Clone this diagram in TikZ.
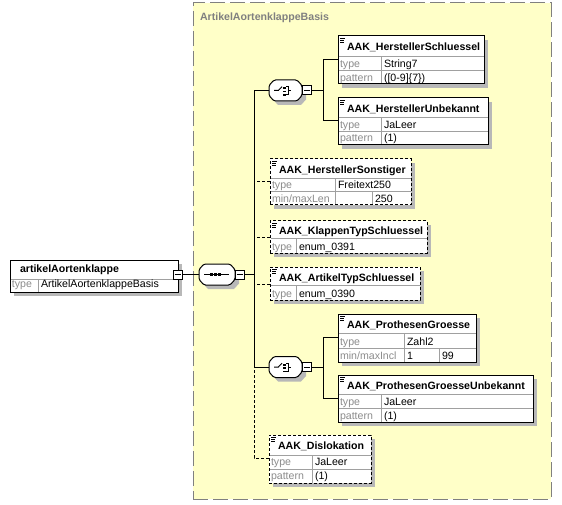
\documentclass[tikz,border=0pt]{standalone}
\usepackage{fontspec}
\setmainfont{Liberation Sans}
\definecolor{grp}{HTML}{FFFFC8}
\definecolor{grpborder}{HTML}{808080}
\definecolor{grpttl}{HTML}{808080}
\definecolor{shc}{HTML}{B8B8B8}
\definecolor{divc}{HTML}{A0A0A0}
\definecolor{lblc}{HTML}{8C8C8C}
\newcommand{\compo}[4]{%
  \begin{scope}[shift={(#2,#3)}]
    \fill[shc] (9,4) -- ({#4-1},4) -- ({#4+4},9.5) -- ({#4+4},19.5) -- ({#4-1},25) -- (9,25) -- (4,19.5) -- (4,9.5) -- cycle;
    \draw[compline] (5,0) -- ({#4-5},0) -- (#4,5.5) -- (#4,15.5) -- ({#4-5},21) -- (5,21) -- (0,15.5) -- (0,5.5) -- cycle;
    \node[anchor=north west, minimum width=#4pt, minimum height=21pt] (#1) at (0,0) {};
  \end{scope}}
\newcommand{\choicesym}[2]{%
  \begin{scope}[shift={(#1,#2)}]
    \draw[line width=1pt] (5,10.5) -- (9.3,10.5) -- (13,6.7);
    \fill (14.2,7.2) rectangle (16.7,9.2);
    \fill (14.2,10.6) rectangle (16.7,12.4);
    \fill (14.2,14) rectangle (16.7,15.8);
    \draw[line width=1pt] (17,7) -- (19,7) -- (19,14.6) -- (17,14.6) (19,10.8) -- (22,10.8);
  \end{scope}}
\newcommand{\docicon}[2]{%
  \draw[line width=0.7pt] ({#1+2},{#2+2.5}) -- ++(5,0) ({#1+2},{#2+4.5}) -- ++(4,0) ({#1+2},{#2+6.5}) -- ++(4,0);}
\begin{document}
\begin{tikzpicture}[x=1pt,y=-1pt,
  every node/.style={inner sep=0pt, outer sep=0pt},
  shadowed/.style={preaction={fill=shc, draw=none, transform canvas={shift={(4pt,-4pt)}}}},
  elbox/.style={draw=black, fill=white, line width=1pt, anchor=north west, shadowed},
  optbox/.style={elbox, dash pattern=on 3pt off 2pt},
  compline/.style={draw=black, fill=white, line width=1pt, rounded corners=1.5pt},
  div/.style={draw=divc, line width=1pt},
  conn/.style={draw=black, line width=1pt},
  optconn/.style={conn, dash pattern=on 3pt off 2pt},
  ttl/.style={anchor=base west, font=\fontsize{10.6}{12}\selectfont\bfseries},
  lbl/.style={anchor=base west, text=lblc, font=\fontsize{10.6}{13}\selectfont},
  val/.style={anchor=base west, font=\fontsize{10.6}{13}\selectfont},
  minusbox/.style={draw=black, fill=white, line width=1pt, minimum size=9pt,
    path picture={\draw[line width=1pt] ([xshift=1.5pt]path picture bounding box.west) -- ([xshift=-1.5pt]path picture bounding box.east);}},
]
\useasboundingbox (0,0) rectangle (562,505);

% group box
\node[draw=grpborder, fill=grp, line width=1pt, dash pattern=on 15pt off 5pt,
  minimum width=358pt, minimum height=496pt, anchor=north west] (grpbox) at (193,3) {};
\node[ttl, text=grpttl] (grpT) at (200,21) {ArtikelAortenklappeBasis};

% outer element
\node[elbox, minimum width=168pt, minimum height=32pt] (outer) at (10,260) {};
\draw[div] (10.5,279) -- (177.5,279);
\draw[div] (38,279) -- (38,291.5);
\node[ttl] (outerT) at (20,272) {artikelAortenklappe};
\node[lbl] (outerL) at (12,287) {type};
\node[val] (outerV) at (41,287) {ArtikelAortenklappeBasis};
\node[minusbox] (m0) at (177.5,274.5) {};

% sequence
\compo{seq}{199}{264}{36}
\draw[line width=1pt] (204,274.5) -- (229,274.5);
\fill (209.8,273) rectangle (212.6,276);
\fill (213.8,273) rectangle (216.6,276);
\fill (217.8,273) rectangle (220.6,276);
\node[minusbox] (m1) at (239.5,274.5) {};
\coordinate (trunk) at (254,274.5);

% choice 1
\compo{c1}{269}{80}{33}
\choicesym{269}{80}
\node[minusbox] (c1m) at (307,90.5) {};
\coordinate (j1) at (323,90.5);

% choice 2
\compo{c2}{269}{356.5}{33}
\choicesym{269}{356.5}
\node[minusbox] (c2m) at (307,367) {};
\coordinate (j2) at (323,367);

% AAK_HerstellerSchluessel
\node[elbox, minimum width=146pt, minimum height=48pt] (hs) at (338,36) {};
\draw[div] (338.5,57) -- (483.5,57) (338.5,71) -- (483.5,71) (381,57) -- (381,83.5);
\docicon{338}{36}
\node[ttl] (hsT) at (347,51) {AAK\_HerstellerSchluessel};
\node[lbl] (hsL1) at (340,68) {type};
\node[val] (hsV1) at (384,68) {String7};
\node[lbl] (hsL2) at (340,81.5) {pattern};
\node[val] (hsV2) at (384,81.5) {([0-9]\{7\})};
\coordinate (hsIn) at (338,60);

% AAK_HerstellerUnbekannt
\node[elbox, minimum width=150pt, minimum height=47pt] (hu) at (338,98) {};
\draw[div] (338.5,118) -- (487.5,118) (338.5,132) -- (487.5,132) (381,118) -- (381,144.5);
\docicon{338}{98}
\node[ttl] (huT) at (347,113) {AAK\_HerstellerUnbekannt};
\node[lbl] (huL1) at (340,129) {type};
\node[val] (huV1) at (384,129) {JaLeer};
\node[lbl] (huL2) at (340,142) {pattern};
\node[val] (huV2) at (384,142) {(1)};
\coordinate (huIn) at (338,121);

% AAK_HerstellerSonstiger
\node[optbox, minimum width=141pt, minimum height=46pt] (so) at (270,159) {};
\draw[div] (270.5,179) -- (410.5,179) (270.5,192) -- (410.5,192) (335,179) -- (335,204.5) (372,192) -- (372,204.5);
\docicon{270}{159}
\node[ttl] (soT) at (279,174) {AAK\_HerstellerSonstiger};
\node[lbl] (soL1) at (272,189) {type};
\node[val] (soV1) at (338,189) {Freitext250};
\node[lbl] (soL2) at (272,203) {min/maxLen};
\node[val] (soV2) at (375,203) {250};
\coordinate (soIn) at (270,182);

% AAK_KlappenTypSchluessel
\node[optbox, minimum width=157pt, minimum height=32pt] (kt) at (270,221) {};
\draw[div] (270.5,238) -- (426.5,238) (296,238) -- (296,252.5);
\docicon{270}{221}
\node[ttl] (ktT) at (279,234) {AAK\_KlappenTypSchluessel};
\node[lbl] (ktL1) at (272,250) {type};
\node[val] (ktV1) at (299,250) {enum\_0391};
\coordinate (ktIn) at (270,237);

% AAK_ArtikelTypSchluessel
\node[optbox, minimum width=150pt, minimum height=33pt] (at) at (270,267) {};
\draw[div] (270.5,285) -- (419.5,285) (296,285) -- (296,299.5);
\docicon{270}{267}
\node[ttl] (atT) at (279,281) {AAK\_ArtikelTypSchluessel};
\node[lbl] (atL1) at (272,297) {type};
\node[val] (atV1) at (299,297) {enum\_0390};
\coordinate (atIn) at (270,284);

% AAK_ProthesenGroesse
\node[elbox, minimum width=138pt, minimum height=48pt] (pg) at (338,314) {};
\draw[div] (338.5,333) -- (475.5,333) (338.5,348) -- (475.5,348) (404,333) -- (404,361.5) (439,348) -- (439,361.5);
\docicon{338}{314}
\node[ttl] (pgT) at (347,328) {AAK\_ProthesenGroesse};
\node[lbl] (pgL1) at (340,345) {type};
\node[val] (pgV1) at (407,345) {Zahl2};
\node[lbl] (pgL2) at (340,359) {min/maxIncl};
\node[val] (pgV2) at (407,359) {1};
\node[val] (pgV3) at (442,359) {99};
\coordinate (pgIn) at (338,337);

% AAK_ProthesenGroesseUnbekannt
\node[elbox, minimum width=195pt, minimum height=47pt] (pu) at (338,375) {};
\draw[div] (338.5,394) -- (532.5,394) (338.5,408) -- (532.5,408) (381,394) -- (381,421.5);
\docicon{338}{375}
\node[ttl] (puT) at (347,389) {AAK\_ProthesenGroesseUnbekannt};
\node[lbl] (puL1) at (340,405) {type};
\node[val] (puV1) at (384,405) {JaLeer};
\node[lbl] (puL2) at (340,419) {pattern};
\node[val] (puV2) at (384,419) {(1)};
\coordinate (puIn) at (338,398);

% AAK_Dislokation
\node[optbox, minimum width=102pt, minimum height=48pt] (di) at (269,435) {};
\draw[div] (269.5,455) -- (370.5,455) (269.5,469) -- (370.5,469) (312,455) -- (312,482.5);
\docicon{269}{435}
\node[ttl] (diT) at (278,449) {AAK\_Dislokation};
\node[lbl] (diL1) at (271,465) {type};
\node[val] (diV1) at (315,465) {JaLeer};
\node[lbl] (diL2) at (271,479) {pattern};
\node[val] (diV2) at (315,479) {(1)};
\coordinate (diIn) at (269,458);

% connectors
\draw[conn] (m0.east) -- (seq.west);
\draw[conn] (m1.east) -- (trunk);
\draw[conn] (c1.west) -| (trunk);
\draw[conn] (c2.west) -| (trunk);
\draw[optconn] (soIn) -- (soIn -| trunk);
\draw[optconn] (ktIn) -- (ktIn -| trunk);
\draw[optconn] (atIn) -- (atIn -| trunk);
\draw[optconn] (diIn) -| (c2.west -| trunk);
\draw[conn] (c1m.east) -- (j1);
\draw[conn] (hsIn) -| (j1);
\draw[conn] (huIn) -| (j1);
\draw[conn] (c2m.east) -- (j2);
\draw[conn] (pgIn) -| (j2);
\draw[conn] (puIn) -| (j2);
\end{tikzpicture}
\end{document}
